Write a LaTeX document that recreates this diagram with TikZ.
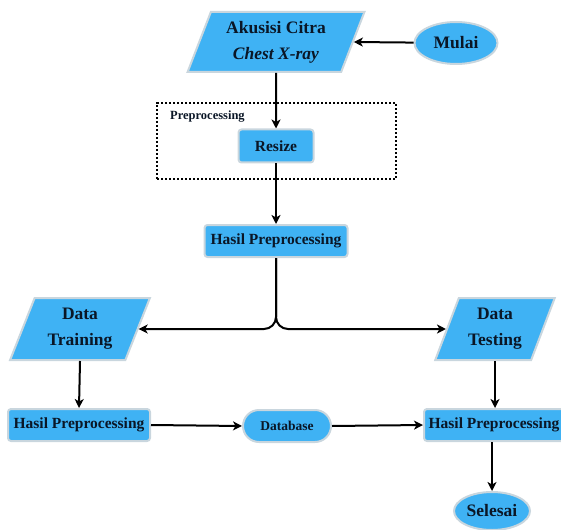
\documentclass[tikz,border=0pt]{standalone}
\usepackage{fontspec}
\setmainfont{Liberation Serif}
\usetikzlibrary{shapes.geometric,shapes.misc,arrows.meta}
\definecolor{boxblue}{HTML}{3FB2F4}
\definecolor{bordercol}{HTML}{C9D6DE}
\definecolor{textcol}{HTML}{0A1626}
\tikzset{
  base/.style={draw=bordercol, line width=2pt, fill=boxblue, text=textcol, inner sep=0pt, align=center},
  procbox/.style={base, rectangle, rounded corners=3pt, font=\bfseries\fontsize{15.5}{18}\selectfont},
  termbox/.style={base, ellipse, font=\bfseries\fontsize{17.5}{20}\selectfont},
  iobox/.style={base, trapezium, trapezium left angle=67, trapezium right angle=113, trapezium stretches=true, font=\bfseries\fontsize{17.5}{26}\selectfont},
  dbbox/.style={base, rounded rectangle, font=\bfseries\fontsize{13.5}{16}\selectfont},
  arr/.style={-{Stealth[length=9pt,width=9pt,inset=2.5pt]}, line width=2pt, black},
  groupbox/.style={draw=black, line width=2.4pt, dash pattern=on 2.2pt off 1.8pt}
}
\begin{document}
\begin{tikzpicture}[x=1pt,y=-1pt]
\useasboundingbox (0,0) rectangle (561,529);
% group box
\node[groupbox, minimum width=239pt, minimum height=76pt, inner sep=0] (grp) at (276.5,141) {};
\node[font=\bfseries\fontsize{12.5}{14}\selectfont, text=textcol, anchor=west, inner sep=0] (grplbl) at (170,117) {Preprocessing};
% nodes
\node[iobox, minimum width=177pt, minimum height=60pt] (akus) at (276,42) {Akusisi Citra\\\textit{Chest X-ray}};
\node[termbox, minimum width=83pt, minimum height=42pt] (mulai) at (456,43) {Mulai};
\node[procbox, minimum width=75pt, minimum height=33pt] (resize) at (276,146) {Resize};
\node[procbox, minimum width=143pt, minimum height=32pt] (hp) at (276,241) {Hasil Preprocessing};
\node[iobox, minimum width=140pt, minimum height=62pt] (dtrain) at (80,329) {Data\\Training};
\node[iobox, minimum width=120pt, minimum height=62pt] (dtest) at (495,329) {Data\\Testing};
\node[procbox, minimum width=142pt, minimum height=32pt] (hpl) at (79,425) {Hasil Preprocessing};
\node[dbbox, minimum width=88pt, minimum height=32pt] (db) at (287,426) {Database};
\node[procbox, minimum width=140pt, minimum height=32pt] (hpr) at (494,425) {Hasil Preprocessing};
\node[termbox, minimum width=76pt, minimum height=38pt] (selesai) at (492,511) {Selesai};
% connectors
\draw[arr] (mulai) -- (akus.east);
\draw[arr] (akus.south) -- (resize.north);
\draw[arr] (resize.south) -- (hp.north);
\draw[arr, rounded corners=12pt] (hp.south) |- (dtrain.east);
\draw[arr, rounded corners=12pt] (hp.south) |- (dtest.west);
\draw[arr] (dtrain.south) -- (hpl.north);
\draw[arr] (hpl.east) -- (db.west);
\draw[arr] (db.east) -- (hpr.west);
\draw[arr] (dtest.south) -- (dtest.south |- hpr.north);
\draw[arr] (hpr.south -| selesai.north) -- (selesai.north);
\end{tikzpicture}
\end{document}
